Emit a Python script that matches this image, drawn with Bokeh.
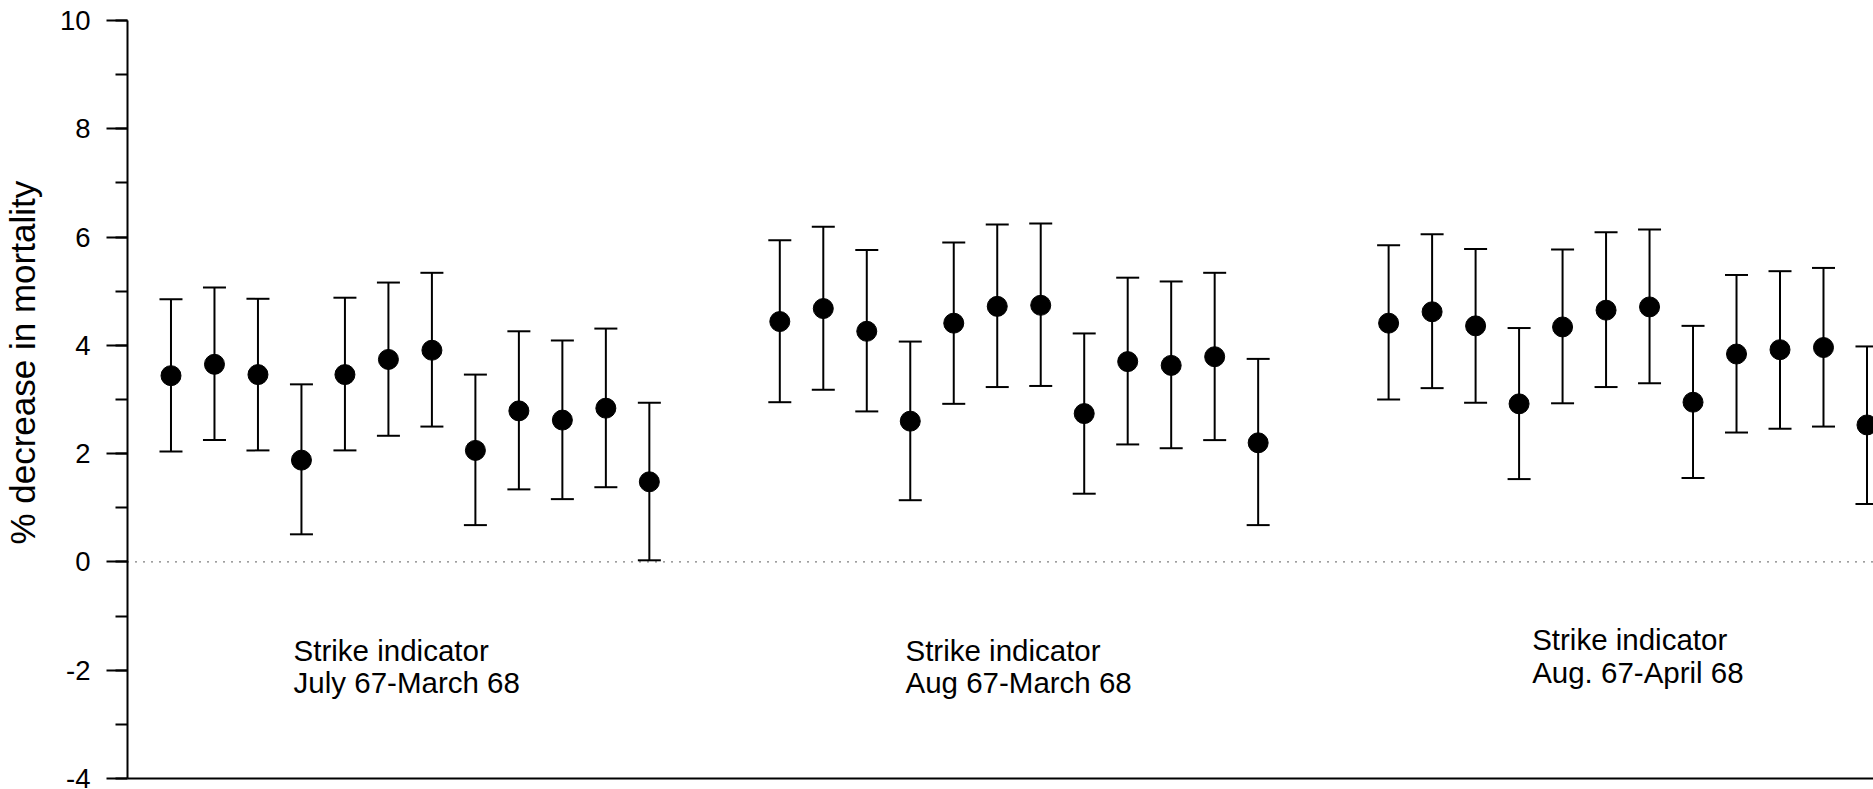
import math
from bokeh.plotting import figure
from bokeh.layouts import row
from bokeh.models import (ColumnDataSource, Range1d, Whisker, TeeHead, Span,
                          SingleIntervalTicker, FixedTicker, PrintfTickFormatter)
from bokeh.core.properties import value
from bokeh.embed import file_html
from bokeh.resources import INLINE

# ---- data ----
group_start = [1, 15, 29]
g1_mean = [3.44, 3.65, 3.46, 1.88, 3.46, 3.74, 3.91, 2.06, 2.79, 2.62, 2.84, 1.48]
g1_upper = [4.85, 5.07, 4.86, 3.28, 4.88, 5.16, 5.34, 3.46, 4.26, 4.09, 4.31, 2.94]
g1_lower = [2.04, 2.25, 2.06, 0.51, 2.06, 2.33, 2.50, 0.68, 1.34, 1.16, 1.38, 0.03]

g2_mean = [4.44, 4.68, 4.26, 2.60, 4.41, 4.72, 4.74, 2.74, 3.70, 3.63, 3.79, 2.20]
g2_upper = [5.94, 6.19, 5.76, 4.07, 5.90, 6.23, 6.25, 4.22, 5.25, 5.18, 5.34, 3.75]
g2_lower = [2.95, 3.18, 2.78, 1.14, 2.92, 3.23, 3.25, 1.26, 2.17, 2.10, 2.25, 0.68]

g3_mean = [4.41, 4.62, 4.36, 2.92, 4.34, 4.65, 4.71, 2.95, 3.84, 3.92, 3.96, 2.53]
g3_upper = [5.85, 6.05, 5.78, 4.32, 5.77, 6.09, 6.14, 4.36, 5.30, 5.37, 5.43, 3.98]
g3_lower = [3.00, 3.21, 2.94, 1.53, 2.93, 3.23, 3.30, 1.55, 2.39, 2.46, 2.50, 1.07]

label_line1 = ["Strike indicator", "Strike indicator", "Strike indicator"]
label_line2 = ["July 67-March 68", "Aug 67-March 68", "Aug. 67-April 68"]
label_x = [3.82, 17.89, 32.3]
label_y1 = [-1.63, -1.63, -1.43]
label_y2 = [-2.225, -2.225, -2.05]

y_title = ["% decrease in mortality"]
y_title_pos = [3.68]

# ---- build source ----
xs, ms, us, ls = [], [], [], []
for start, m, u, l in zip(group_start, [g1_mean, g2_mean, g3_mean],
                          [g1_upper, g2_upper, g3_upper], [g1_lower, g2_lower, g3_lower]):
    for i in range(len(m)):
        xs.append(start + i)
        ms.append(m[i])
        us.append(u[i])
        ls.append(l[i])
src = ColumnDataSource(dict(x=xs, mean=ms, upper=us, lower=ls))

FONT = "Liberation Sans"
W, H = 1873, 789
TOP, BOTTOM = 20, 11
TITLE_W = 50

# ---- narrow figure holding the rotated y title ----
pt = figure(width=TITLE_W, height=H, output_backend="svg", toolbar_location=None,
            x_range=Range1d(0, TITLE_W), y_range=Range1d(-4, 10),
            x_axis_location=None, y_axis_location=None,
            min_border_left=0, min_border_right=0, min_border_top=TOP, min_border_bottom=BOTTOM)
pt.outline_line_color = None
pt.xgrid.visible = False
pt.ygrid.visible = False
pt.text(x=[22], y=y_title_pos, text=y_title, angle=math.pi / 2,
        text_font=value(FONT), text_font_size=value("35px"), text_color="black",
        text_align="center", text_baseline="alphabetic")

# ---- main figure ----
p = figure(width=W - TITLE_W, height=H, output_backend="svg", toolbar_location=None,
           x_range=Range1d(0, 40.15), y_range=Range1d(-4, 10),
           min_border_left=127 - TITLE_W, min_border_right=0,
           min_border_top=TOP, min_border_bottom=BOTTOM)
p.outline_line_color = None
p.xgrid.visible = False
p.ygrid.visible = False
p.background_fill_color = "white"
p.border_fill_color = "white"

ya = p.yaxis[0]
ya.ticker = SingleIntervalTicker(interval=2, num_minor_ticks=2)
ya.formatter = PrintfTickFormatter(format="%d")
ya.axis_line_width = 2
ya.axis_line_color = "black"
ya.major_tick_line_width = 2
ya.minor_tick_line_width = 2
ya.major_tick_line_color = "black"
ya.minor_tick_line_color = "black"
ya.major_tick_out = 21
ya.major_tick_in = 0
ya.minor_tick_out = 12
ya.minor_tick_in = 0
ya.major_label_standoff = 16
ya.major_label_text_font = FONT
ya.major_label_text_font_size = "27.5px"
ya.major_label_text_color = "black"

xa = p.xaxis[0]
xa.ticker = FixedTicker(ticks=[])
xa.major_label_text_font_size = "0px"
xa.major_tick_out = 0
xa.major_tick_in = 0
xa.minor_tick_out = 0
xa.minor_tick_in = 0
xa.major_label_standoff = 0
xa.axis_line_width = 2
xa.axis_line_color = "black"

p.add_layout(Span(location=0, dimension="width", line_color="black",
                  line_width=1.3, line_dash="1 7"))

w = Whisker(source=src, base="x", upper="upper", lower="lower",
            line_color="black", line_width=2,
            upper_head=TeeHead(size=23, line_width=2, line_color="black"),
            lower_head=TeeHead(size=23, line_width=2, line_color="black"))
p.add_layout(w)

p.scatter("x", "mean", source=src, size=20, color="black", marker="circle")

lsrc = ColumnDataSource(dict(x=label_x, y1=label_y1, y2=label_y2, t1=label_line1, t2=label_line2))
for ycol, tcol in (("y1", "t1"), ("y2", "t2")):
    p.text(x="x", y=ycol, text=tcol, source=lsrc, text_font=value(FONT),
           text_font_size=value("29.5px"), text_color="black",
           text_align="left", text_baseline="alphabetic")

layout = row(pt, p)
open("out.html", "w").write(file_html(layout, INLINE))
